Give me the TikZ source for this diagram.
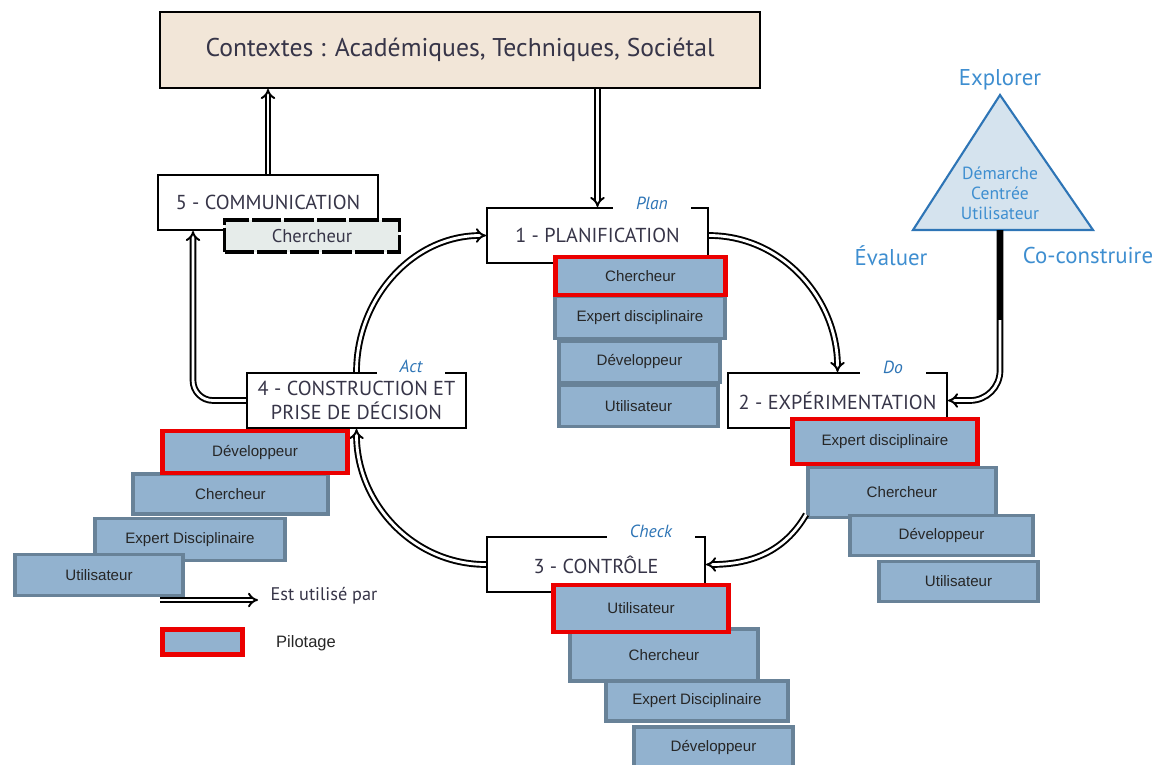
\documentclass[tikz,border=0pt]{standalone}
\usepackage{fontspec}
\setmainfont{PT Sans}
\newfontfamily\arial{Liberation Sans}
\usepackage{xcolor}
\usepackage{tikz}
\usetikzlibrary{arrows.meta,positioning}
\definecolor{ctxfill}{RGB}{242,230,216}
\definecolor{rolefill}{RGB}{146,178,207}
\definecolor{roledraw}{RGB}{104,130,152}
\definecolor{pilotred}{RGB}{235,0,0}
\definecolor{triblue}{RGB}{46,117,182}
\definecolor{trifill}{RGB}{213,227,238}
\definecolor{softblue}{RGB}{62,142,208}
\definecolor{labtext}{RGB}{55,53,72}
\definecolor{subfill}{RGB}{230,236,234}
\tikzset{stage/.style={draw,line width=1.2pt,fill=white,inner sep=0pt,text=labtext,font=\fontsize{11.5}{14}\selectfont,align=center},
  role/.style={draw=roledraw,fill=rolefill,line width=2.2pt,inner sep=0pt,text={black!85},font=\arial\fontsize{8.6}{10}\selectfont},
  pilot/.style={role,draw=pilotred,line width=2.8pt},
  phase/.style={fill=white,inner xsep=13pt,inner ysep=1pt,text=triblue,font=\itshape\fontsize{10}{12}\selectfont},
  flow/.style={double=white,double distance=1.6pt,line width=1.1pt,-{Implies}},
  corner/.style={text=softblue,font=\fontsize{13}{15}\selectfont}}

\begin{document}
\begin{tikzpicture}[x=0.02cm,y=-0.02cm]
        \useasboundingbox (0,0) rectangle (1166,764);

        \node[stage,fill=ctxfill,minimum width=12cm,minimum height=1.52cm,font=\fontsize{14.6}{16}\selectfont] (ctx) at (460,50) {Contextes : Académiques, Techniques, Sociétal};
        \node[stage,minimum width=4.4cm,minimum height=1.1cm] (com) at (268,202.5) {5 - COMMUNICATION};
        \node[draw,line width=2pt,dash pattern=on 17pt off 1.5pt,fill=subfill,inner sep=0pt,minimum width=3.5cm,minimum height=0.64cm,text=labtext,font=\fontsize{10.5}{12}\selectfont] (comch) at (312,236) {Chercheur};
        \node[stage,minimum width=4.42cm,minimum height=1.1cm] (plan) at (597.5,235.5) {1 - PLANIFICATION};
        \node[stage,minimum width=4.38cm,minimum height=1.1cm] (exp) at (837.5,400.5) {2 - EXPÉRIMENTATION};
        \node[stage,minimum width=4.36cm,minimum height=1.1cm] (ctrl) at (596,564.5) {3 - CONTRÔLE};
        \node[stage,minimum width=4.38cm,minimum height=1.1cm] (cons) at (356.5,400.5) {4 - CONSTRUCTION ET\\PRISE DE DÉCISION};

        \node[phase] (plan-l) at (652,203) {Plan};
        \node[phase] (exp-l) at (893,367) {Do};
        \node[phase] (ctrl-l) at (651,531) {Check};
        \node[phase] (cons-l) at (411,366) {Act};

        % triangle
        \coordinate (trileft) at (913,230);
        \coordinate (tritop) at (1000,95);
        \coordinate (triright) at (1093,230);
        \coordinate (tribase) at (1000,230);
        \draw[triblue,fill=trifill,line width=1.2pt] (trileft) -- (tritop) -- (triright) -- cycle;
        \node[align=center,text=softblue,font=\fontsize{10}{11.5}\selectfont] (dcu) at (1000,193) {Démarche\\Centrée\\Utilisateur};
        \node[corner] (explore) at (1000,80) {Explorer};
        \node[corner] (evaluate) at (891,256) {Évaluer};
        \node[corner] (cobuild) at (1088,256) {Co-construire};

        \draw[flow] (com.north) -- (com.north |- ctx.south);
        \draw[flow] (ctx.south -| plan.north) -- (plan.north);
        \draw[flow,rounded corners=0.4cm] (cons.west) -| ([xshift=-1.5cm]com.south);
        \draw[flow,rounded corners=0.6cm] (tribase) |- (exp.east);
        \draw[line width=2.4pt] (tribase) -- ([yshift=-1.8cm]tribase);
        \draw[flow] (cons.north) to[out=90,in=180] (plan.west);
        \draw[flow] (plan.east) to[out=0,in=90] (exp.north);
        \draw[flow] (ctrl.west) to[out=180,in=-90] (cons.south);

        % stacks
        \node[role,minimum width=3.4cm,minimum height=0.84cm] (pex) at (640,317.5) {Expert disciplinaire};
        \node[role,minimum width=3.22cm,minimum height=0.82cm] (pdv) at (639.5,362) {Développeur};
        \node[role,minimum width=3.18cm,minimum height=0.82cm] (put) at (638.5,406) {Utilisateur};
        \node[pilot,minimum width=3.4cm,minimum height=0.76cm] (pch) at (640.5,276) {Chercheur};

        \node[role,minimum width=3.76cm,minimum height=1.0cm] (ech) at (902,492.5) {Chercheur};
        \node[role,minimum width=3.66cm,minimum height=0.8cm] (edv) at (941.5,535.5) {Développeur};
        \node[role,minimum width=3.18cm,minimum height=0.8cm] (eut) at (958.5,581.5) {Utilisateur};
        \node[pilot,minimum width=3.7cm,minimum height=0.9cm] (eex) at (885,441.5) {Expert disciplinaire};
        \draw[flow] ([yshift=0.1cm]ech.south west) to[out=240,in=0] (ctrl.east);

        \node[role,minimum width=3.76cm,minimum height=1.04cm] (kch) at (664,655) {Chercheur};
        \node[role,minimum width=3.64cm,minimum height=0.8cm] (kex) at (697,701) {Expert Disciplinaire};
        \node[role,minimum width=3.18cm,minimum height=0.8cm] (kdv) at (713.5,747) {Développeur};
        \node[pilot,minimum width=3.5cm,minimum height=0.94cm] (kut) at (641,608.5) {Utilisateur};

        \node[role,minimum width=3.9cm,minimum height=0.8cm] (cch) at (230.5,494) {Chercheur};
        \node[role,minimum width=3.8cm,minimum height=0.84cm] (cex) at (190,539.5) {Expert Disciplinaire};
        \node[role,minimum width=3.36cm,minimum height=0.82cm] (cut) at (99,575) {Utilisateur};
        \node[pilot,minimum width=3.7cm,minimum height=0.84cm] (cdv) at (255,452) {Développeur};

        % legend
        \coordinate (lgfrom) at (160,600);
        \coordinate (lgto) at (258,600);
        \draw[flow] (lgfrom) -- (lgto);
        \node[text=labtext,font=\fontsize{10.4}{12}\selectfont] (lgflow) at (324,596) {Est utilisé par};
        \node[pilot,minimum width=1.6cm,minimum height=0.5cm] (lgbox) at (202.5,642) {};
        \node[text={black!85},font=\arial\fontsize{9.4}{11}\selectfont] (lgpilot) at (306,643) {Pilotage};
    \end{tikzpicture}
\end{document}
